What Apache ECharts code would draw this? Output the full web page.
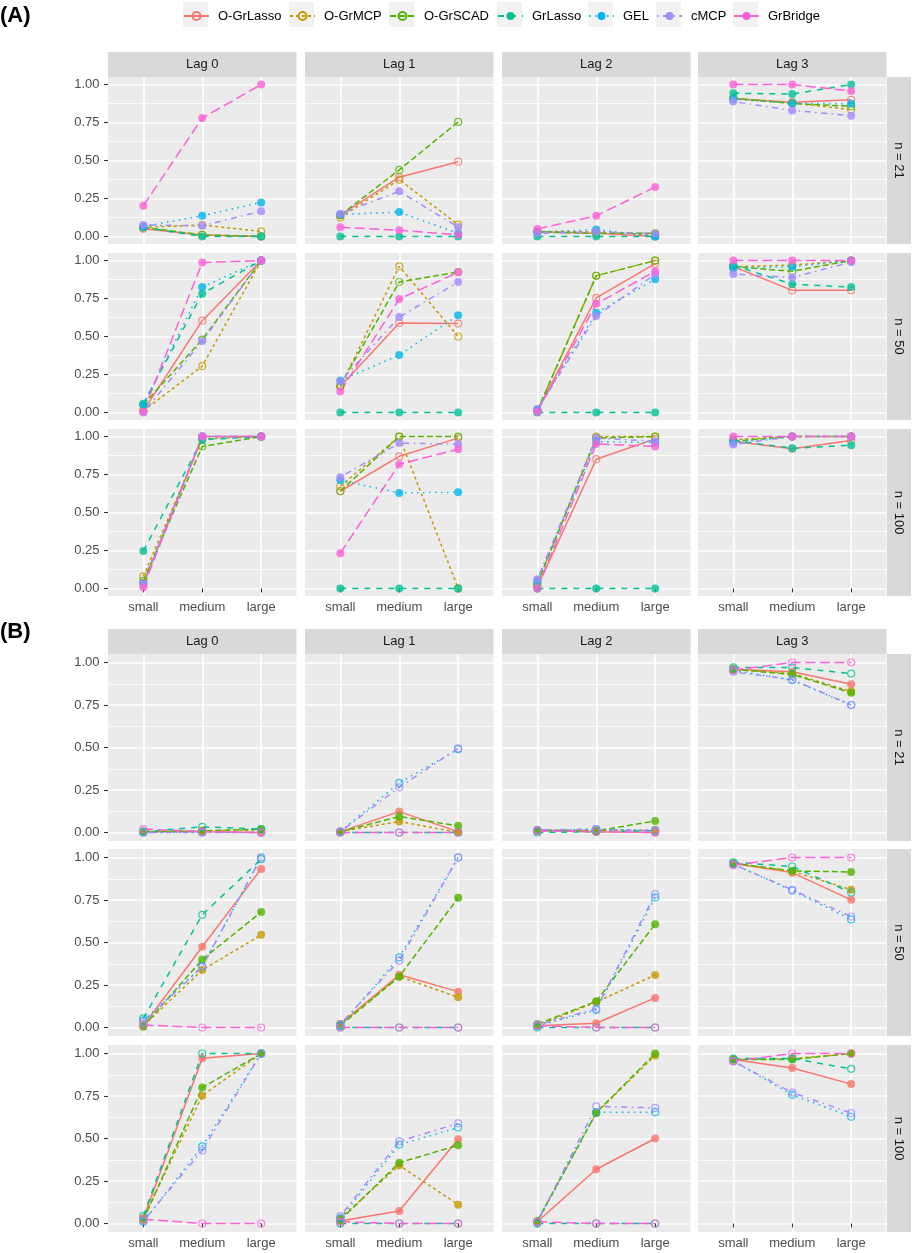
<!DOCTYPE html>
<html>
<head>
<meta charset="utf-8">
<script src="https://cdn.jsdelivr.net/npm/echarts@6/dist/echarts.min.js"></script>
<style>
html,body{margin:0;padding:0;background:#fff;}
#chart{width:913px;height:1253px;}
</style>
</head>
<body>
<div id="chart"></div>
<script>
var methods = ['O-GrLasso','O-GrMCP','O-GrSCAD','GrLasso','GEL','cMCP','GrBridge'];
var colors = ['#F8766D','#C49A00','#53B400','#00C094','#00B6EB','#A58AFF','#FB61D7'];
var dashes = ['solid',[3,3],[6,3],[6,6],[1.5,4.5],[1.5,4.5,6,4.5],[10,4.5]];
var sizes = ['small','medium','large'];
var lags = ['Lag 0','Lag 1','Lag 2','Lag 3'];
var nLabels = ['n = 21','n = 50','n = 100'];
var yTicks = [0,0.25,0.5,0.75,1];
var yTickLabels = ['0.00','0.25','0.50','0.75','1.00'];
var yMinor = [0.125,0.375,0.625,0.875];

// (A) rows: one array per lag, one line per method (small, medium, large)
var a21Lag0 = [[0.05,0.01,0.00],[0.06,0.075,0.033],[0.06,0.01,0.00],[0.06,0.00,0.00],[0.065,0.136,0.224],[0.075,0.07,0.165],[0.202,0.78,1.0]];
var a21Lag1 = [[0.14,0.39,0.492],[0.125,0.374,0.077],[0.14,0.438,0.754],[0,0,0],[0.145,0.16,0.02],[0.15,0.297,0.062],[0.06,0.04,0.011]];
var a21Lag2 = [[0.03,0.02,0.0],[0.03,0.03,0.01],[0.03,0.02,0.02],[0,0,0],[0.03,0.045,0.0],[0.02,0.03,0.018],[0.049,0.136,0.325]];
var a21Lag3 = [[0.906,0.884,0.90],[0.91,0.88,0.835],[0.91,0.875,0.857],[0.943,0.938,1.0],[0.905,0.877,0.873],[0.888,0.83,0.795],[1.0,1.0,0.958]];

var a50Lag0 = [[0.01,0.604,1.0],[0.01,0.305,1.0],[0.05,0.48,1.0],[0.057,0.782,1.0],[0.05,0.826,1.0],[0.0,0.47,1.0],[0.005,0.987,1.0]];
var a50Lag1 = [[0.17,0.589,0.585],[0.17,0.962,0.50],[0.18,0.859,0.925],[0,0,0],[0.21,0.378,0.64],[0.204,0.628,0.859],[0.138,0.747,0.923]];
var a50Lag2 = [[0.01,0.754,0.98],[0.01,0.9,1.0],[0.01,0.9,1.0],[0,0,0],[0.02,0.656,0.877],[0.02,0.635,0.91],[0.005,0.715,0.93]];
var a50Lag3 = [[0.96,0.804,0.804],[0.96,0.97,1.0],[0.96,0.93,1.0],[0.97,0.844,0.826],[0.95,0.96,1.0],[0.912,0.888,0.99],[1.0,1.0,1.0]];

var a100Lag0 = [[0.03,1.0,1.0],[0.079,0.985,1.0],[0.05,0.935,1.0],[0.247,0.98,1.0],[0.03,1.0,1.0],[0.03,1.0,1.0],[0.007,1.0,1.0]];
var a100Lag1 = [[0.64,0.87,0.99],[0.673,1.0,0.0],[0.64,1.0,1.0],[0,0,0],[0.712,0.629,0.633],[0.733,0.957,0.95],[0.232,0.818,0.917]];
var a100Lag2 = [[0.01,0.851,0.985],[0.03,1.0,1.0],[0.03,0.99,1.0],[0,0,0],[0.05,0.967,0.96],[0.061,0.99,0.97],[0.0,0.952,0.935]];
var a100Lag3 = [[0.97,0.92,0.975],[0.98,1.0,1.0],[0.97,1.0,1.0],[0.974,0.923,0.943],[0.96,1.0,1.0],[0.948,1.0,1.0],[1.0,1.0,1.0]];

// (B)
var b21Lag0 = [[0.005,0.005,0.0],[0.005,0.01,0.015],[0.005,0.01,0.02],[0.005,0.033,0.02],[0,0,0],[0,0,0],[0.02,0.005,0.0]];
var b21Lag1 = [[0.005,0.123,0.005],[0.005,0.065,0.0],[0.005,0.094,0.039],[0,0,0],[0.005,0.292,0.49],[0.005,0.266,0.495],[0,0,0]];
var b21Lag2 = [[0.01,0.005,0.0],[0.01,0.01,0.016],[0.015,0.01,0.067],[0.0,0.005,0.01],[0.01,0.02,0.01],[0.015,0.02,0.01],[0.01,0.005,0.0]];
var b21Lag3 = [[0.96,0.945,0.872],[0.96,0.935,0.83],[0.96,0.93,0.822],[0.971,0.97,0.935],[0.955,0.896,0.75],[0.945,0.90,0.75],[0.955,1.0,1.0]];

var b50Lag0 = [[0.01,0.475,0.933],[0.01,0.338,0.545],[0.005,0.40,0.679],[0.054,0.663,0.99],[0.04,0.36,1.0],[0.03,0.357,1.0],[0.015,0.0,0.0]];
var b50Lag1 = [[0.02,0.31,0.211],[0.02,0.30,0.178],[0.01,0.299,0.763],[0,0,0],[0.01,0.413,1.0],[0.02,0.393,1.0],[0,0,0]];
var b50Lag2 = [[0.01,0.025,0.174],[0.01,0.15,0.309],[0.02,0.154,0.608],[0,0,0],[0.01,0.103,0.765],[0.015,0.11,0.784],[0.01,0.0,0.0]];
var b50Lag3 = [[0.965,0.911,0.751],[0.965,0.92,0.81],[0.965,0.921,0.915],[0.972,0.947,0.794],[0.96,0.806,0.636],[0.96,0.81,0.653],[0.955,1.0,1.0]];

var b100Lag0 = [[0.03,0.972,1.0],[0.03,0.752,1.0],[0.02,0.80,1.0],[0.045,1.0,1.0],[0.01,0.454,1.0],[0.015,0.43,1.0],[0.025,0.0,0.0]];
var b100Lag1 = [[0.015,0.074,0.495],[0.03,0.342,0.111],[0.02,0.358,0.46],[0,0,0],[0.03,0.464,0.564],[0.043,0.483,0.589],[0.01,0.0,0.0]];
var b100Lag2 = [[0.01,0.319,0.50],[0.01,0.65,0.988],[0.015,0.651,1.0],[0,0,0],[0.01,0.655,0.655],[0.01,0.689,0.68],[0.01,0.0,0.0]];
var b100Lag3 = [[0.965,0.915,0.82],[0.965,0.97,1.0],[0.965,0.965,1.0],[0.97,0.97,0.91],[0.955,0.757,0.628],[0.955,0.77,0.65],[0.955,1.0,1.0]];

var panelA = [[a21Lag0,a21Lag1,a21Lag2,a21Lag3],[a50Lag0,a50Lag1,a50Lag2,a50Lag3],[a100Lag0,a100Lag1,a100Lag2,a100Lag3]];
var panelB = [[b21Lag0,b21Lag1,b21Lag2,b21Lag3],[b50Lag0,b50Lag1,b50Lag2,b50Lag3],[b100Lag0,b100Lag1,b100Lag2,b100Lag3]];

var FONT = "'Liberation Sans', Arial, sans-serif";
var colLeft = [108,305,502,698], colW = 188.5;
var panels = [
    {label:'(A)', labelY:16, stripTop:52, rowTop:[77,253,429], rowH:167, data:panelA, hollow:[0,1,2]},
    {label:'(B)', labelY:632, stripTop:629, rowTop:[654,849,1045], rowH:187, data:panelB, hollow:[3,4,5,6]}
];
var legendX = [183,289,389,497,588,656,733];

var grids = [], xAxes = [], yAxes = [], series = [], graphics = [], legends = [];

panels.forEach(function(p){
    graphics.push({type:'text', x:0, y:p.labelY, style:{text:p.label, font:'bold 22px ' + FONT, fill:'#000', verticalAlign:'middle'}});
    // column strips
    lags.forEach(function(lag, c){
        graphics.push({type:'rect', shape:{x:colLeft[c], y:p.stripTop, width:colW, height:p.rowTop[0]-p.stripTop}, style:{fill:'#D9D9D9'}});
        graphics.push({type:'text', x:colLeft[c]+colW/2, y:(p.stripTop+p.rowTop[0])/2, style:{text:lag, font:'13px ' + FONT, fill:'#1A1A1A', align:'center', verticalAlign:'middle'}});
    });
    for (var r = 0; r < 3; r++) {
        // row strip
        graphics.push({type:'rect', shape:{x:887, y:p.rowTop[r], width:24, height:p.rowH}, style:{fill:'#D9D9D9'}});
        graphics.push({type:'text', x:899, y:p.rowTop[r]+p.rowH/2, rotation:-Math.PI/2, style:{text:nLabels[r], font:'13px ' + FONT, fill:'#1A1A1A', align:'center', verticalAlign:'middle'}});
        for (var c = 0; c < 4; c++) {
            var g = grids.length;
            var bottomRow = (r === 2), firstCol = (c === 0);
            grids.push({left:colLeft[c], top:p.rowTop[r], width:colW, height:p.rowH, show:true, backgroundColor:'#EBEBEB', borderWidth:0});
            xAxes.push({
                type:'value', gridIndex:g, min:0.4, max:3.6,
                axisLine:{show:false},
                axisTick:{show:bottomRow, customValues:[1,2,3], length:4, lineStyle:{color:'#333333', width:1.1}},
                axisLabel:{show:bottomRow, customValues:[1,2,3], margin:5, color:'#4D4D4D', fontSize:13, fontFamily:FONT,
                    formatter:function(v){ return sizes[Math.round(v)-1]; }},
                splitLine:{show:true, lineStyle:{color:'#FFFFFF', width:1.6}}
            });
            yAxes.push({
                type:'value', gridIndex:g, min:-0.05, max:1.05,
                axisLine:{show:false},
                axisTick:{show:firstCol, customValues:yTicks, length:4, lineStyle:{color:'#333333', width:1.1}},
                axisLabel:{show:firstCol, customValues:yTicks, margin:8.5, color:'#4D4D4D', fontSize:13, fontFamily:FONT,
                    formatter:function(v){ return yTickLabels[Math.round(v*4)]; }},
                splitLine:{show:true, lineStyle:{color:'#FFFFFF', width:1.6}}
            });
            yAxes.push({
                type:'value', gridIndex:g, min:-0.05, max:1.05,
                axisLine:{show:false},
                axisTick:{show:false, customValues:yMinor},
                axisLabel:{show:false, customValues:yMinor},
                splitLine:{show:true, lineStyle:{color:'#FFFFFF', width:0.8}}
            });
            var facet = p.data[r][c];
            methods.forEach(function(m, k){
                var pts = facet[k].map(function(v, i){ return [i+1, v]; });
                var hollow = p.hollow.indexOf(k) >= 0;
                var iStyle = hollow ? {color:'rgba(0,0,0,0)', borderColor:colors[k], borderWidth:1.2} : {color:colors[k]};
                series.push({
                    type:'line', name:m, xAxisIndex:g, yAxisIndex:2*g, data:pts,
                    showSymbol:false, symbol:'circle', z:2, silent:true,
                    lineStyle:{color:colors[k], width:1.5, type:dashes[k]},
                    itemStyle:iStyle
                });
                series.push({
                    type:'scatter', name:m, xAxisIndex:g, yAxisIndex:2*g, data:pts,
                    symbol:'circle', symbolSize: hollow ? 7 : 8, z:3, silent:true,
                    itemStyle:iStyle
                });
            });
        }
    }
});

// legend: gray key boxes and one legend per item
methods.forEach(function(m, k){
    graphics.push({type:'rect', z:1, shape:{x:legendX[k], y:2, width:25, height:25}, style:{fill:'#F2F2F2'}});
    legends.push({
        data:[m], left:legendX[k], top:9.5, padding:0, itemWidth:25, itemHeight:10,
        selectedMode:false,
        textStyle:{fontSize:13, color:'#000', fontFamily:FONT, padding:[0,0,0,4]}
    });
});

var chart = echarts.init(document.getElementById('chart'), null, {renderer:'canvas'});
chart.setOption({
    animation:false,
    backgroundColor:'#FFFFFF',
    textStyle:{fontFamily:FONT},
    legend:legends,
    grid:grids,
    xAxis:xAxes,
    yAxis:yAxes,
    graphic:graphics,
    series:series
});
</script>
</body>
</html>
